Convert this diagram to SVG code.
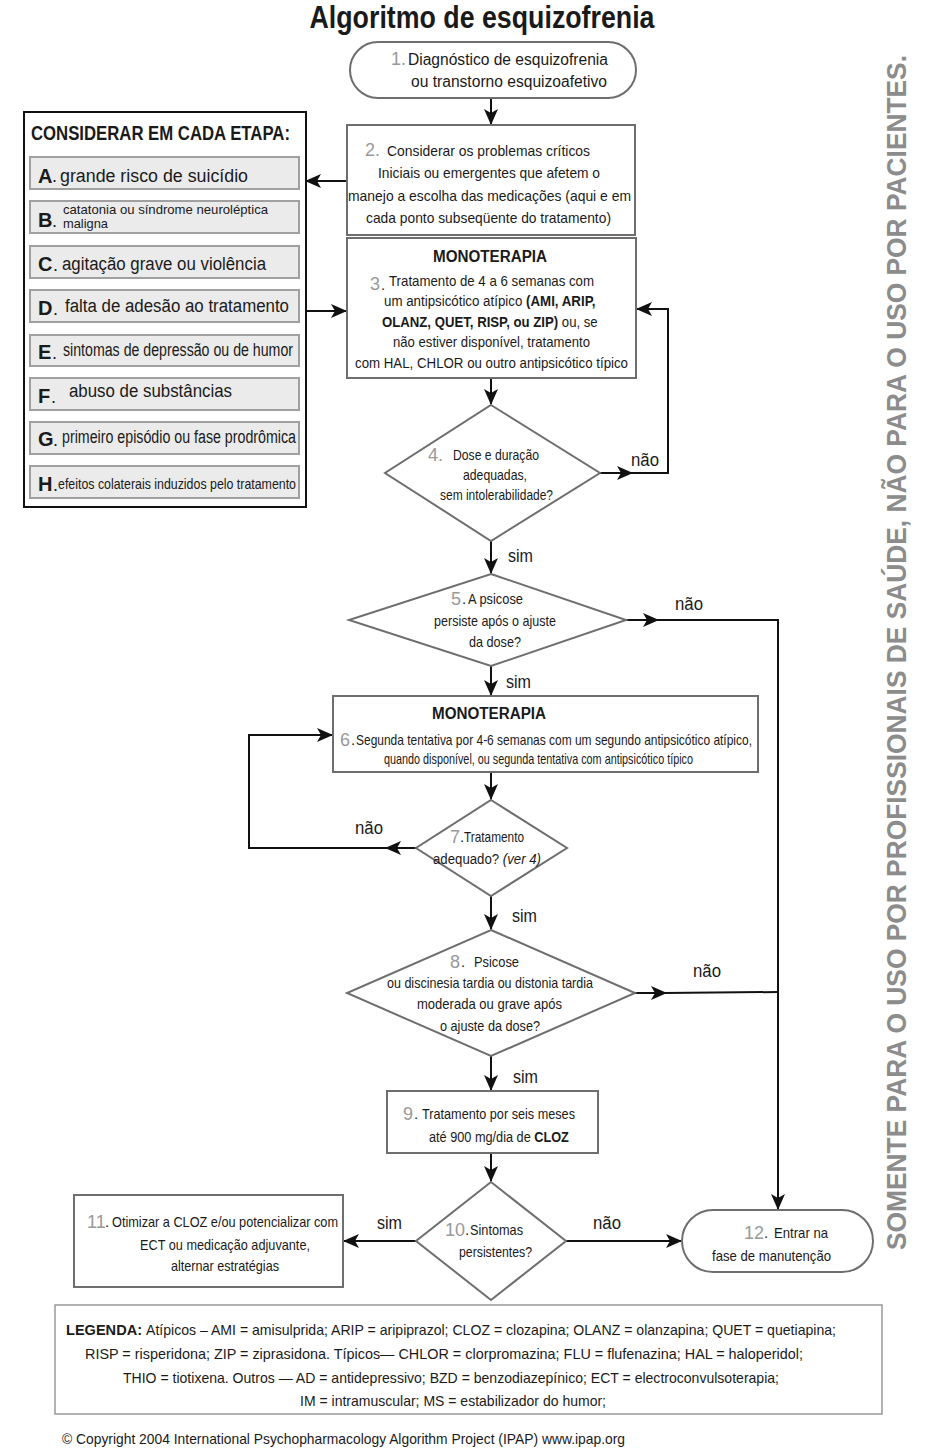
<svg xmlns="http://www.w3.org/2000/svg" width="948" height="1452" viewBox="0 0 948 1452">
<style>
text{font-family:"Liberation Sans",Arial,sans-serif;fill:#1a1a1a;}
.t{font-size:16px;}
.s{font-size:15px;}
.b{font-weight:bold;}
.n{fill:#999;font-size:18px;}
.node{fill:#fff;stroke:#6e6e6e;stroke-width:2;}
.item{fill:#ebebeb;stroke:#a0a0a0;stroke-width:2;}
.lt{font-size:18px;}
.lb{font-size:20px;font-weight:bold;}
.con{fill:none;stroke:#111;stroke-width:2;}
.lab{font-size:18px;}
</style>
<defs>
<marker id="ah" markerUnits="userSpaceOnUse" markerWidth="16" markerHeight="14" refX="15" refY="7" orient="auto"><path d="M0,0 L16,7 L0,14 L4,7 Z" fill="#111"/></marker>
</defs>
<rect width="948" height="1452" fill="#fff"/>
<text x="482" y="28" text-anchor="middle" class="b" font-size="31" textLength="345" lengthAdjust="spacingAndGlyphs">Algoritmo de esquizofrenia</text>

<g id="connectors">
<line class="con" x1="491" y1="98" x2="491" y2="124" marker-end="url(#ah)"/>
<line class="con" x1="347" y1="181" x2="306" y2="181" marker-end="url(#ah)"/>
<line class="con" x1="306" y1="311" x2="346" y2="311" marker-end="url(#ah)"/>
<line class="con" x1="491" y1="378" x2="491" y2="404" marker-end="url(#ah)"/>
<line class="con" x1="600" y1="473" x2="632" y2="473" marker-end="url(#ah)"/>
<polyline class="con" points="630,473 668,473 668,309 637,309" marker-end="url(#ah)"/>
<line class="con" x1="491" y1="541" x2="491" y2="573" marker-end="url(#ah)"/>
<line class="con" x1="626" y1="620" x2="658" y2="620" marker-end="url(#ah)"/>
<polyline class="con" points="656,620 778,620 778,1209" marker-end="url(#ah)"/>
<line class="con" x1="491" y1="666" x2="491" y2="695" marker-end="url(#ah)"/>
<line class="con" x1="491" y1="772" x2="491" y2="799" marker-end="url(#ah)"/>
<line class="con" x1="416" y1="848" x2="386" y2="848" marker-end="url(#ah)"/>
<polyline class="con" points="388,848 249,848 249,735 332,735" marker-end="url(#ah)"/>
<line class="con" x1="491" y1="896" x2="491" y2="929" marker-end="url(#ah)"/>
<line class="con" x1="635" y1="993" x2="666" y2="993" marker-end="url(#ah)"/>
<line class="con" x1="664" y1="993" x2="778" y2="992"/>
<line class="con" x1="491" y1="1056" x2="491" y2="1090" marker-end="url(#ah)"/>
<line class="con" x1="491" y1="1153" x2="491" y2="1181" marker-end="url(#ah)"/>
<line class="con" x1="416" y1="1241" x2="344" y2="1241" marker-end="url(#ah)"/>
<line class="con" x1="566" y1="1241" x2="681" y2="1241" marker-end="url(#ah)"/>
<text class="lab" x="631" y="466" textLength="28" lengthAdjust="spacingAndGlyphs">não</text>
<text class="lab" x="508" y="562" textLength="25" lengthAdjust="spacingAndGlyphs">sim</text>
<text class="lab" x="675" y="610" textLength="28" lengthAdjust="spacingAndGlyphs">não</text>
<text class="lab" x="506" y="688" textLength="25" lengthAdjust="spacingAndGlyphs">sim</text>
<text class="lab" x="355" y="834" textLength="28" lengthAdjust="spacingAndGlyphs">não</text>
<text class="lab" x="512" y="922" textLength="25" lengthAdjust="spacingAndGlyphs">sim</text>
<text class="lab" x="693" y="977" textLength="28" lengthAdjust="spacingAndGlyphs">não</text>
<text class="lab" x="513" y="1083" textLength="25" lengthAdjust="spacingAndGlyphs">sim</text>
<text class="lab" x="377" y="1229" textLength="25" lengthAdjust="spacingAndGlyphs">sim</text>
<text class="lab" x="593" y="1229" textLength="28" lengthAdjust="spacingAndGlyphs">não</text>
</g>

<g id="n1">
<rect class="node" x="350" y="42" width="286" height="56" rx="28"/>
<text class="n" x="391" y="65">1.</text>
<text class="t" x="408" y="65" textLength="200" lengthAdjust="spacingAndGlyphs">Diagnóstico de esquizofrenia</text>
<text class="t" x="411" y="87" textLength="196" lengthAdjust="spacingAndGlyphs">ou transtorno esquizoafetivo</text>
</g>

<g id="n2">
<rect class="node" x="347" y="125" width="288" height="110"/>
<text class="n" x="365" y="156">2.</text>
<text class="s" x="387" y="156" textLength="203" lengthAdjust="spacingAndGlyphs">Considerar os problemas críticos</text>
<text class="s" x="378" y="178" textLength="222" lengthAdjust="spacingAndGlyphs">Iniciais ou emergentes que afetem o</text>
<text class="s" x="348" y="201" textLength="283" lengthAdjust="spacingAndGlyphs">manejo a escolha das medicações (aqui e em</text>
<text class="s" x="366" y="223" textLength="245" lengthAdjust="spacingAndGlyphs">cada ponto subseqüente do tratamento)</text>
</g>

<g id="considerar">
<rect x="24" y="112" width="282" height="395" fill="#fff" stroke="#111" stroke-width="2"/>
<text x="31" y="140" class="b" font-size="20" textLength="259" lengthAdjust="spacingAndGlyphs">CONSIDERAR EM CADA ETAPA:</text>
<rect class="item" x="30" y="157" width="269" height="32"/>
<text class="lb" x="38" y="183">A</text><text class="lt" x="52" y="182">.</text>
<text class="lt" x="60" y="182" textLength="188" lengthAdjust="spacingAndGlyphs">grande risco de suicídio</text>
<rect class="item" x="30" y="201" width="269" height="32"/>
<text class="lb" x="38" y="227">B</text><text class="lt" x="52" y="227">.</text>
<text x="63" y="214" font-size="13" textLength="205" lengthAdjust="spacingAndGlyphs">catatonia ou síndrome neuroléptica</text>
<text x="63" y="228" font-size="13" textLength="45" lengthAdjust="spacingAndGlyphs">maligna</text>
<rect class="item" x="30" y="246" width="269" height="32"/>
<text class="lb" x="38" y="271">C</text><text class="lt" x="53" y="271">.</text>
<text class="lt" x="62" y="270" textLength="204" lengthAdjust="spacingAndGlyphs">agitação grave ou violência</text>
<rect class="item" x="30" y="290" width="269" height="32"/>
<text class="lb" x="38" y="315">D</text><text class="lt" x="53" y="315">.</text>
<text class="lt" x="65" y="312" textLength="224" lengthAdjust="spacingAndGlyphs">falta de adesão ao tratamento</text>
<rect class="item" x="30" y="335" width="269" height="31"/>
<text class="lb" x="38" y="359">E</text><text class="lt" x="52" y="359">.</text>
<text class="lt" x="63" y="356" font-size="17" textLength="230" lengthAdjust="spacingAndGlyphs">sintomas de depressão ou de humor</text>
<rect class="item" x="30" y="378" width="269" height="32"/>
<text class="lb" x="38" y="403">F</text><text class="lt" x="51" y="403">.</text>
<text class="lt" x="69" y="397" textLength="163" lengthAdjust="spacingAndGlyphs">abuso de substâncias</text>
<rect class="item" x="30" y="422" width="269" height="32"/>
<text class="lb" x="38" y="446">G</text><text class="lt" x="53" y="446">.</text>
<text class="lt" x="62" y="443" font-size="17" textLength="234" lengthAdjust="spacingAndGlyphs">primeiro episódio ou fase prodrômica</text>
<rect class="item" x="30" y="466" width="269" height="32"/>
<text class="lb" x="38" y="491">H</text><text class="lt" x="53" y="491">.</text>
<text x="58" y="489" font-size="15" textLength="238" lengthAdjust="spacingAndGlyphs">efeitos colaterais induzidos pelo tratamento</text>
</g>

<g id="n3">
<rect class="node" x="347" y="238" width="289" height="140"/>
<text x="433" y="262" class="b" font-size="16" textLength="114" lengthAdjust="spacingAndGlyphs">MONOTERAPIA</text>
<text class="n" x="370" y="290">3</text><text class="s" x="381" y="290">.</text>
<text class="s" x="389" y="286" textLength="205" lengthAdjust="spacingAndGlyphs">Tratamento de 4 a 6 semanas com</text>
<text class="s" transform="translate(384,306) scale(0.888,1)">um antipsicótico atípico <tspan class="b">(AMI, ARIP,</tspan></text>
<text class="s" transform="translate(382,327) scale(0.879,1)"><tspan class="b">OLANZ, QUET, RISP, ou ZIP)</tspan> ou, se</text>
<text class="s" x="393" y="347" textLength="197" lengthAdjust="spacingAndGlyphs">não estiver disponível, tratamento</text>
<text class="s" x="355" y="368" textLength="273" lengthAdjust="spacingAndGlyphs">com  HAL, CHLOR ou outro antipsicótico típico</text>
</g>

<g id="n4">
<polygon class="node" points="491,405 600,473 491,541 385,473"/>
<text class="n" x="428" y="461">4.</text>
<text class="s" x="453" y="460" textLength="86" lengthAdjust="spacingAndGlyphs">Dose e duração</text>
<text class="s" x="463" y="480" textLength="64" lengthAdjust="spacingAndGlyphs">adequadas,</text>
<text class="s" x="440" y="500" textLength="113" lengthAdjust="spacingAndGlyphs">sem intolerabilidade?</text>
</g>

<g id="n5">
<polygon class="node" points="491,574 626,620 491,666 349,620"/>
<text class="n" x="451" y="605">5</text><text class="s" x="462" y="604">.</text>
<text class="s" x="468" y="604" textLength="55" lengthAdjust="spacingAndGlyphs">A psicose</text>
<text class="s" x="434" y="626" textLength="122" lengthAdjust="spacingAndGlyphs">persiste após o ajuste</text>
<text class="s" x="469" y="647" textLength="52" lengthAdjust="spacingAndGlyphs">da dose?</text>
</g>

<g id="n6">
<rect class="node" x="333" y="696" width="425" height="76"/>
<text x="432" y="719" class="b" font-size="16" textLength="114" lengthAdjust="spacingAndGlyphs">MONOTERAPIA</text>
<text class="n" x="340" y="746">6</text><text class="s" x="351" y="745">.</text>
<text class="s" x="356" y="745" textLength="396" lengthAdjust="spacingAndGlyphs">Segunda tentativa por 4-6 semanas com um segundo antipsicótico atípico,</text>
<text class="s" x="384" y="764" textLength="309" lengthAdjust="spacingAndGlyphs">quando disponível, ou segunda tentativa com antipsicótico típico</text>
</g>

<g id="n7">
<polygon class="node" points="491,800 567,848 491,896 416,848"/>
<text class="n" x="450" y="843">7</text><text class="s" x="460" y="842">.</text>
<text class="s" x="464" y="842" textLength="60" lengthAdjust="spacingAndGlyphs">Tratamento</text>
<text class="s" transform="translate(433,864) scale(0.882,1)">adequado? <tspan font-style="italic">(ver 4)</tspan></text>
</g>

<g id="n8">
<polygon class="node" points="491,930 635,993 491,1056 347,993"/>
<text class="n" x="450" y="968">8</text><text class="s" x="461" y="967">.</text>
<text class="s" x="474" y="967" textLength="45" lengthAdjust="spacingAndGlyphs">Psicose</text>
<text class="s" x="387" y="988" textLength="206" lengthAdjust="spacingAndGlyphs">ou discinesia tardia ou distonia tardia</text>
<text class="s" x="417" y="1009" textLength="145" lengthAdjust="spacingAndGlyphs">moderada ou  grave após</text>
<text class="s" x="440" y="1031" textLength="100" lengthAdjust="spacingAndGlyphs">o ajuste da dose?</text>
</g>

<g id="n9">
<rect class="node" x="387" y="1091" width="211" height="62"/>
<text class="n" x="403" y="1120">9</text><text class="s" x="414" y="1119">.</text>
<text class="s" x="422" y="1119" textLength="153" lengthAdjust="spacingAndGlyphs">Tratamento por seis meses</text>
<text class="s" transform="translate(429,1142) scale(0.848,1)">até 900 mg/dia de <tspan class="b">CLOZ</tspan></text>
</g>

<g id="n10">
<polygon class="node" points="491,1182 566,1241 491,1300 416,1241"/>
<text class="n" x="445" y="1236">10</text><text class="s" x="465" y="1235">.</text>
<text class="s" x="470" y="1235" textLength="53" lengthAdjust="spacingAndGlyphs">Sintomas</text>
<text class="s" x="459" y="1257" textLength="73" lengthAdjust="spacingAndGlyphs">persistentes?</text>
</g>

<g id="n11">
<rect class="node" x="74" y="1195" width="269" height="92"/>
<text class="n" x="87" y="1228">11</text><text class="s" x="105" y="1227">.</text>
<text class="s" x="112" y="1227" textLength="226" lengthAdjust="spacingAndGlyphs">Otimizar a CLOZ e/ou potencializar com</text>
<text class="s" x="140" y="1250" textLength="170" lengthAdjust="spacingAndGlyphs">ECT ou medicação adjuvante,</text>
<text class="s" x="171" y="1271" textLength="108" lengthAdjust="spacingAndGlyphs">alternar estratégias</text>
</g>

<g id="n12">
<rect class="node" x="682" y="1210" width="191" height="62" rx="31"/>
<text class="n" x="744" y="1239">12</text><text class="s" x="764" y="1238">.</text>
<text class="s" x="774" y="1238" textLength="54" lengthAdjust="spacingAndGlyphs">Entrar na</text>
<text class="s" x="712" y="1261" textLength="119" lengthAdjust="spacingAndGlyphs">fase de manutenção</text>
</g>

<g id="legenda">
<rect x="55" y="1305" width="827" height="109" fill="#fff" stroke="#999" stroke-width="1.5"/>
<text class="s b" x="66" y="1335" textLength="76" lengthAdjust="spacingAndGlyphs">LEGENDA:</text>
<text class="s" x="146" y="1335" textLength="690" lengthAdjust="spacingAndGlyphs">Atípicos – AMI = amisulprida; ARIP = aripiprazol; CLOZ = clozapina; OLANZ = olanzapina; QUET = quetiapina;</text>
<text class="s" x="85" y="1359" textLength="718" lengthAdjust="spacingAndGlyphs">RISP = risperidona; ZIP = ziprasidona. Típicos— CHLOR = clorpromazina; FLU = flufenazina; HAL = haloperidol;</text>
<text class="s" x="123" y="1383" textLength="656" lengthAdjust="spacingAndGlyphs">THIO = tiotixena. Outros — AD = antidepressivo; BZD = benzodiazepínico; ECT = electroconvulsoterapia;</text>
<text class="s" x="300" y="1406" textLength="306" lengthAdjust="spacingAndGlyphs">IM = intramuscular; MS = estabilizador do humor;</text>
</g>
<text class="s" x="62" y="1444" textLength="563" lengthAdjust="spacingAndGlyphs">© Copyright 2004 International Psychopharmacology Algorithm Project (IPAP) www.ipap.org</text>

<text transform="translate(906,1250) rotate(-90)" x="0" y="0" font-size="27" font-weight="bold" style="fill:#8c8c8c" textLength="1195" lengthAdjust="spacingAndGlyphs">SOMENTE PARA O USO POR PROFISSIONAIS DE SAÚDE, NÃO PARA O USO POR PACIENTES.</text>
</svg>
